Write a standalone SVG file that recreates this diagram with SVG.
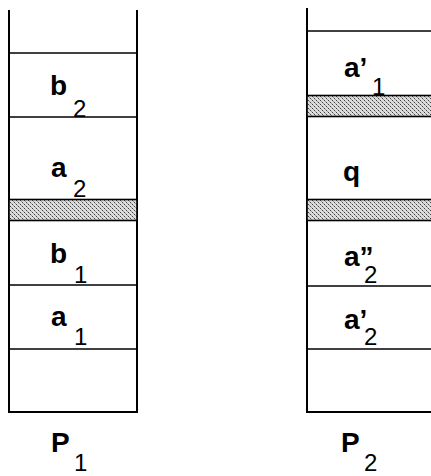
<svg xmlns="http://www.w3.org/2000/svg" width="431" height="476" viewBox="0 0 431 476">
<style>
.ln{stroke:#000;stroke-width:1.6;fill:none}
.vl{stroke:#000;stroke-width:2;fill:none}
.m{font-family:"Liberation Sans",Arial,sans-serif;font-weight:bold;font-size:28px;fill:#000}
.s{font-weight:normal;font-size:24px}
.band{fill:url(#dots);stroke:#000;stroke-width:1.6}
</style>
<defs>
<pattern id="dots" width="4" height="4" patternUnits="userSpaceOnUse">
<rect width="4" height="4" fill="#dcdcdc"/>
<rect x="0" y="0" width="1" height="1" fill="#444"/>
<rect x="2" y="2" width="1" height="1" fill="#444"/>
<rect x="1" y="1" width="1" height="1" fill="#999"/>
<rect x="3" y="3" width="1" height="1" fill="#999"/>
</pattern>
</defs>
<rect width="431" height="476" fill="#fff"/>
<g id="P1">
<line class="vl" x1="9" y1="10" x2="9" y2="412"/>
<line class="vl" x1="137" y1="10" x2="137" y2="412"/>
<line class="ln" x1="9" y1="53" x2="137" y2="53"/>
<line class="ln" x1="9" y1="117" x2="137" y2="117"/>
<rect class="band" x="9" y="199.5" width="128" height="21"/>
<line class="ln" x1="9" y1="285" x2="137" y2="285"/>
<line class="ln" x1="9" y1="349" x2="137" y2="349"/>
<line class="vl" x1="8" y1="412" x2="138" y2="412"/>
</g>
<g id="P2">
<line class="vl" x1="307" y1="8" x2="307" y2="412"/>
<line class="ln" x1="307" y1="31" x2="431" y2="31"/>
<rect class="band" x="307" y="95.5" width="126" height="21"/>
<rect class="band" x="307" y="199.5" width="126" height="21"/>
<line class="ln" x1="307" y1="286" x2="431" y2="286"/>
<line class="ln" x1="307" y1="349" x2="431" y2="349"/>
<line class="vl" x1="306" y1="412" x2="431" y2="412"/>
</g>
<g id="labels-P1">
<text class="m" x="50" y="95">b<tspan class="s" x="73" y="117">2</tspan></text>
<text class="m" x="51" y="177">a<tspan class="s" x="73" y="197">2</tspan></text>
<text class="m" x="50" y="263">b<tspan class="s" x="74" y="283">1</tspan></text>
<text class="m" x="51" y="326">a<tspan class="s" x="74" y="345">1</tspan></text>
<text class="m" x="51" y="452">P<tspan class="s" x="74" y="471">1</tspan></text>
</g>
<g id="labels-P2">
<text class="m" x="344" y="77">a’<tspan class="s" x="372" y="95">1</tspan></text>
<text class="m" x="343" y="181">q</text>
<text class="m" x="344" y="266">a”<tspan class="s" x="364" y="283">2</tspan></text>
<text class="m" x="344" y="329">a’<tspan class="s" x="364" y="345">2</tspan></text>
<text class="m" x="341" y="452">P<tspan class="s" x="364" y="471">2</tspan></text>
</g>
</svg>
